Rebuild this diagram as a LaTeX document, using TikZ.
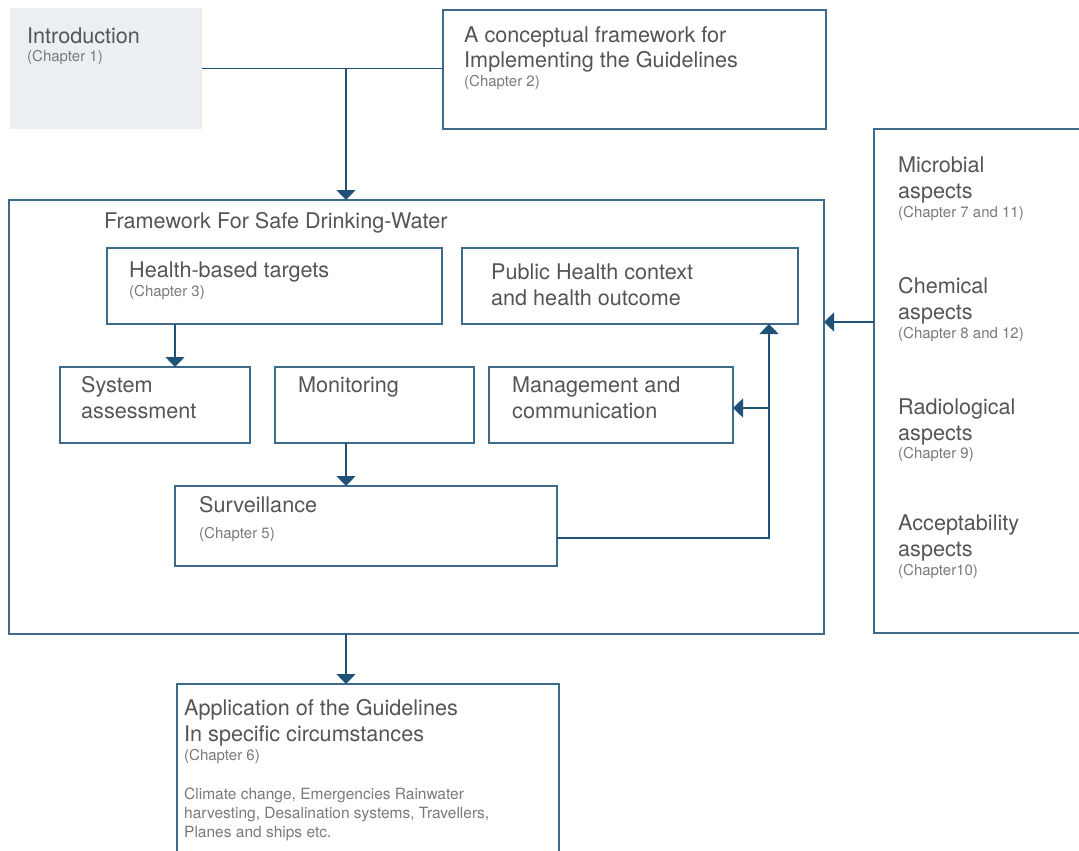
\documentclass[tikz,border=0pt]{standalone}
\usepackage{fontspec}
\setmainfont{TeX Gyre Heros}
\usetikzlibrary{arrows.meta}
\definecolor{edge}{HTML}{1F5276}
\definecolor{frame}{HTML}{3E6A8C}
\definecolor{ink}{HTML}{555555}
\definecolor{soft}{HTML}{7A7A7A}
\definecolor{introfill}{HTML}{ECEFF2}
\begin{document}
\begin{tikzpicture}[x=1pt,y=-1pt,
  box/.style={draw=frame,line width=1.4pt,fill=white,anchor=north west,
    inner sep=0pt,outer sep=0pt},
  % multi-line nodes are placed by the baseline of their last line
  head/.style={anchor=base west,inner sep=0pt,text=ink,
    font=\fontsize{21.6}{25.5}\selectfont,align=left},
  chap/.style={anchor=base west,inner sep=0pt,text=soft,
    font=\fontsize{15}{19}\selectfont,align=left},
  body/.style={chap,font=\fontsize{15.5}{19}\selectfont},
  link/.style={draw=edge,line width=1.5pt,-{Triangle[width=19pt,length=10pt]}},
  plain/.style={draw=edge,line width=1.5pt}]
\clip (0,0) rectangle (1079,851);
\fill[white] (0,0) rectangle (1079,851);

% boxes
\node[anchor=north west,fill=introfill,inner sep=0pt,outer sep=0pt,
  minimum width=192pt,minimum height=121pt] (intro) at (10,8) {};
\node[box,minimum width=383pt,minimum height=119pt] (ch2) at (443,10) {};
\node[box,minimum width=815pt,minimum height=434pt] (frame) at (9,200) {};
\node[box,minimum width=335pt,minimum height=76pt] (hbt) at (107,248) {};
\node[box,minimum width=336pt,minimum height=76pt] (pub) at (462,248) {};
\node[box,minimum width=190pt,minimum height=76pt] (sys) at (60,367) {};
\node[box,minimum width=199pt,minimum height=76pt] (mon) at (275,367) {};
\node[box,minimum width=244pt,minimum height=76pt] (mgmt) at (489,367) {};
\node[box,minimum width=382pt,minimum height=80pt] (surv) at (175,486) {};
\node[box,minimum width=230pt,minimum height=504pt] (panel) at (874,129) {};
\node[box,minimum width=382pt,minimum height=190pt] (app) at (177,684) {};

% texts
\node[head] (introT) at (27,44) {Introduction};
\node[chap] (introC) at (27,62) {(Chapter 1)};
\node[head] (ch2T) at (464,68) {A conceptual framework for\\Implementing the Guidelines};
\node[chap] (ch2C) at (464,86) {(Chapter 2)};
\node[head] (frameT) at (104,228) {Framework For Safe Drinking-Water};
\node[head] (hbtT) at (129,277) {Health-based targets};
\node[chap] (hbtC) at (129,296) {(Chapter 3)};
\node[head] (pubT) at (491,305) {Public Health context\\and health outcome};
\node[head] (sysT) at (81,418) {System\\assessment};
\node[head] (monT) at (298,392) {Monitoring};
\node[head] (mgmtT) at (512,418) {Management and\\communication};
\node[head] (survT) at (199,512) {Surveillance};
\node[chap] (survC) at (199,538) {(Chapter 5)};
\node[head] (micT) at (898,198) {Microbial\\aspects};
\node[chap] (micC) at (898,217) {(Chapter 7 and 11)};
\node[head] (chemT) at (898,319) {Chemical\\aspects};
\node[chap] (chemC) at (898,338) {(Chapter 8 and 12)};
\node[head] (radT) at (898,440) {Radiological\\aspects};
\node[chap] (radC) at (898,458) {(Chapter 9)};
\node[head] (accT) at (898,556) {Acceptability\\aspects};
\node[chap] (accC) at (898,575) {(Chapter10)};
\node[head] (appT) at (184,741) {Application of the Guidelines\\In specific circumstances};
\node[chap] (appC) at (184,760) {(Chapter 6)};
\node[body] (appB) at (184,837) {Climate change, Emergencies Rainwater\\harvesting, Desalination systems, Travellers,\\Planes and ships etc.};

% connectors
\coordinate (j) at (346,69);
\coordinate (k) at (769,538);
\coordinate (p) at (874,322);
\draw[plain] (intro.east) -- (intro.east -| ch2.west);
\draw[link] (j) -- (j |- frame.north);
\draw[link] ([xshift=68pt]hbt.south west) -- ([xshift=68pt]hbt.south west |- sys.north);
\draw[link] ([xshift=71pt]mon.south west) -- ([xshift=71pt]mon.south west |- surv.north);
\draw[link] ([yshift=-12pt]surv.east) -- (k) -- (k |- pub.south);
\draw[link] ([yshift=-3pt]mgmt.east -| k) -- ([yshift=-3pt]mgmt.east);
\draw[link] (p) -- (p -| frame.east);
\draw[link] (frame.south -| j) -- (j |- app.north);
\end{tikzpicture}
\end{document}
